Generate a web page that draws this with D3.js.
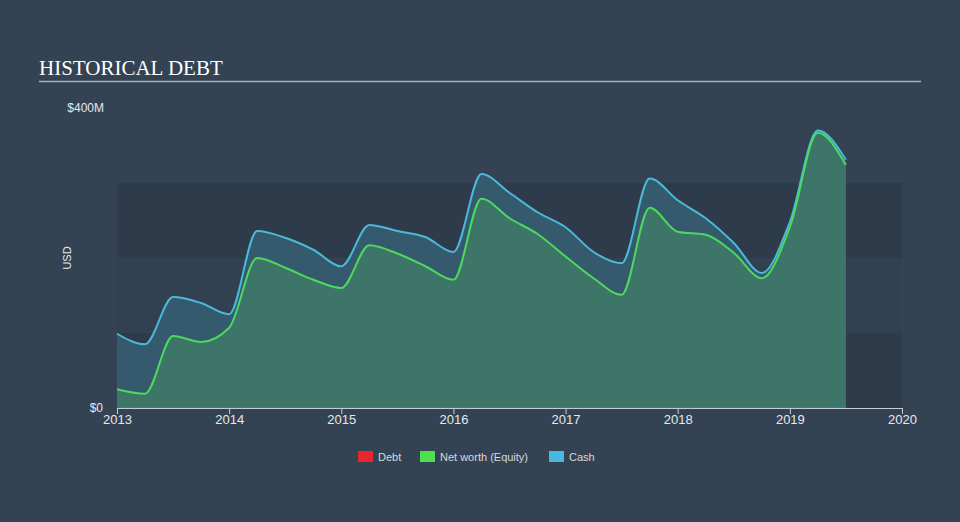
<!DOCTYPE html>
<html>
<head>
<meta charset="utf-8">
<script src="https://cdn.jsdelivr.net/npm/d3@7"></script>
<style>
  body { margin: 0; background: #344353; }
  svg { display: block; }
  text { font-family: Arial, "Liberation Sans", sans-serif; }
</style>
</head>
<body>
<svg id="chart" width="960" height="522"></svg>
<script>
// quarterly dates (decimal years)
const dates = [2013, 2013.25, 2013.5, 2013.75, 2014, 2014.25, 2014.5, 2014.75,
  2015, 2015.25, 2015.5, 2015.75, 2016, 2016.25, 2016.5, 2016.75,
  2017, 2017.25, 2017.5, 2017.75, 2018, 2018.25, 2018.5, 2018.75,
  2019, 2019.25, 2019.5];
// values in $M
const debt = dates.map(() => 0);
const equity = [25, 19, 96, 88, 107, 200, 187, 171,
  160, 217, 206, 189, 171, 279, 253, 232,
  202, 173, 151, 267, 235, 231, 207, 173,
  241, 367, 324];
const cash = [99, 85, 148, 140, 125, 236, 227, 211,
  189, 244, 236, 228, 208, 312, 287, 261,
  241, 208, 193, 306, 277, 253, 220, 180,
  248, 370, 331];
const xTicks = [2013, 2014, 2015, 2016, 2017, 2018, 2019, 2020];
const bands = [[0, 100], [200, 300]];

const svg = d3.select('#chart');
const plotLeft = 117, plotRight = 902, plotTop = 108, plotBottom = 408;

const x = d3.scaleLinear().domain([2013, 2020]).range([plotLeft, plotRight]);
const y = d3.scaleLinear().domain([0, 400]).range([plotBottom, plotTop]);

// title
svg.append('text')
  .attr('x', 39).attr('y', 75)
  .attr('fill', '#ffffff')
  .style('font-family', '"Liberation Serif", "DejaVu Serif", serif')
  .style('font-size', '21px')
  .text('HISTORICAL DEBT');
svg.append('line')
  .attr('x1', 39).attr('x2', 921).attr('y1', 81.5).attr('y2', 81.5)
  .attr('stroke', '#a9b0b8').attr('stroke-width', 1.5);

// bands
svg.append('rect')
  .attr('x', plotLeft).attr('y', y(300)).attr('width', plotRight - plotLeft).attr('height', y(0) - y(300))
  .attr('fill', '#324151');
svg.selectAll('.band').data(bands).enter().append('rect')
  .attr('class', 'band')
  .attr('x', plotLeft).attr('width', plotRight - plotLeft)
  .attr('y', d => y(d[1]))
  .attr('height', d => y(d[0]) - y(d[1]))
  .attr('fill', '#2e3b4a');

const curve = d3.curveMonotoneX;
const cashData = dates.map((d, i) => ({ d: d, v: cash[i] }));
const eqData = dates.map((d, i) => ({ d: d, v: equity[i] }));
const debtData = dates.map((d, i) => ({ d: d, v: debt[i] }));

const area = d3.area().x(p => x(p.d)).y0(y(0)).y1(p => y(p.v)).curve(curve);
const line = d3.line().x(p => x(p.d)).y(p => y(p.v)).curve(curve);

svg.append('path').datum(cashData).attr('d', area).attr('fill', '#35596d');
svg.append('path').datum(eqData).attr('d', area).attr('fill', '#3d7568');
svg.append('path').datum(cashData).attr('d', line)
  .attr('fill', 'none').attr('stroke', '#4bb9da').attr('stroke-width', 2);
svg.append('path').datum(eqData).attr('d', line)
  .attr('fill', 'none').attr('stroke', '#4cd95e').attr('stroke-width', 2);
svg.append('path').datum(debtData).attr('d', line)
  .attr('fill', 'none').attr('stroke', '#e0403c').attr('stroke-width', 1);

// x axis
const xAxis = svg.append('g')
  .attr('transform', `translate(0,${plotBottom})`)
  .call(d3.axisBottom(x).tickValues(xTicks).tickFormat(d3.format('d')).tickSize(6).tickSizeOuter(0));
xAxis.select('.domain').attr('stroke', '#c8ccd2');
xAxis.selectAll('.tick line').attr('stroke', '#c8ccd2');
xAxis.selectAll('.tick text')
  .attr('fill', '#e6e8eb').attr('dy', '0.55em')
  .style('font-size', '13px');

// y labels
svg.append('text').attr('x', 104).attr('y', 112).attr('text-anchor', 'end')
  .attr('fill', '#e6e8eb').style('font-size', '12px').text('$400M');
svg.append('text').attr('x', 103).attr('y', 412).attr('text-anchor', 'end')
  .attr('fill', '#e6e8eb').style('font-size', '12px').text('$0');
svg.append('text')
  .attr('transform', 'translate(71,258) rotate(-90)')
  .attr('text-anchor', 'middle')
  .attr('fill', '#e6e8eb').style('font-size', '11px').text('USD');

// legend
const legend = [
  { name: 'Debt', color: '#e8262b', x: 358 },
  { name: 'Net worth (Equity)', color: '#4ce04f', x: 420 },
  { name: 'Cash', color: '#47b9de', x: 549 }
];
const lg = svg.selectAll('.lg').data(legend).enter().append('g')
  .attr('transform', d => `translate(${d.x},451)`);
lg.append('rect').attr('width', 15).attr('height', 11).attr('fill', d => d.color);
lg.append('text').attr('x', 20).attr('y', 9.5)
  .attr('fill', '#d5d9de').style('font-size', '11px').text(d => d.name);
</script>
</body>
</html>
